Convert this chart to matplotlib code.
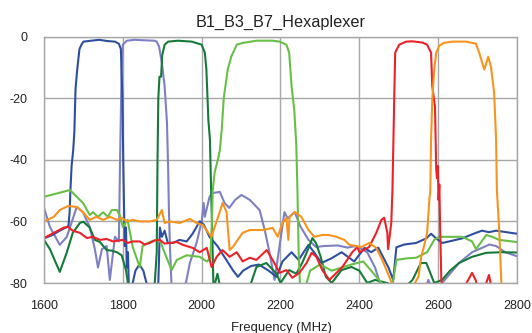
import matplotlib
matplotlib.use('Agg')
import matplotlib.pyplot as plt

plt.rcParams['font.family'] = ['Liberation Sans', 'DejaVu Sans']
plt.rcParams['axes.unicode_minus'] = False

# ---- data (frequency in MHz, insertion/isolation in dB) ----
title = 'B1_B3_B7_Hexaplexer'
x_label = 'Frequency (MHz)'
x_ticks = [1600, 1800, 2000, 2200, 2400, 2600, 2800]
y_ticks = [0, -20, -40, -60, -80]

blue_f = [1600, 1620, 1640, 1655, 1662, 1665, 1667, 1670, 1674, 1677, 1680, 1684, 1690, 1695,
          1700, 1720, 1740, 1760, 1780, 1790, 1795, 1799, 1801, 1803, 1805, 1808, 1810, 1813,
          1816, 1825, 1832, 1842, 1852, 1860, 1866, 1886, 1890, 1894, 1899, 1906, 1914, 1927,
          1944, 1962, 1977, 1995, 2005, 2020, 2040, 2060, 2080, 2092, 2105, 2125, 2145, 2170,
          2190, 2205, 2228, 2246, 2271, 2285, 2304, 2329, 2355, 2387, 2413, 2430, 2448, 2474,
          2486, 2494, 2514, 2544, 2570, 2582, 2595, 2610, 2628, 2661, 2690, 2711, 2729, 2747, 2800]
blue_db = [-65.5, -64.5, -63, -62, -61.5, -57, -50, -42, -37, -31, -17, -11, -4, -2.6,
           -1.6, -1.3, -1.0, -1.4, -1.6, -2.3, -4, -20, -40, -55, -68, -62, -75, -70,
           -85, -80, -76, -74, -76, -80, -85, -85, -80, -62, -65, -63, -67, -67,
           -66, -66.5, -64, -60, -61, -65, -68, -72, -76, -78, -76, -74.5, -74, -76,
           -78, -73, -70, -72.5, -67.6, -70, -73.5, -72, -70, -73, -68.6, -70, -68.5, -75,
           -79, -68.4, -67.5, -67, -65.5, -64, -65.5, -67, -66.5, -65.5, -64, -63, -63.5, -63, -64]

purple_f = [1600, 1615, 1640, 1658, 1683, 1699, 1716, 1729, 1737, 1747, 1759, 1767, 1780, 1790,
            1793, 1797, 1800, 1810, 1830, 1860, 1880, 1886, 1892, 1899, 1906, 1912, 1915, 1917,
            1920, 1924, 1940, 1960, 1970, 1987, 2000, 2005, 2008, 2020, 2028, 2046, 2058, 2070,
            2085, 2101, 2122, 2147, 2160, 2172, 2185, 2193, 2210, 2218, 2236, 2250, 2271, 2290,
            2310, 2345, 2370, 2392, 2420, 2440, 2452, 2470, 2560, 2575, 2585, 2600, 2610, 2630,
            2653, 2686, 2711, 2730, 2747, 2770, 2800]
purple_db = [-55.6, -61.8, -67.6, -65, -55.3, -57, -61.8, -69, -75, -69, -68, -79, -65, -66.5,
             -40, -10, -2.6, -1.3, -1.0, -1.2, -1.3, -1.6, -3.2, -8.5, -16, -28, -43, -57,
             -70, -82, -82, -80, -73.5, -67, -60, -54, -58.5, -52, -50.8, -50.4, -54, -55.6,
             -53, -51.4, -53, -56.3, -62.8, -70, -79, -72, -57, -59, -57, -61.5, -66, -68.3,
             -68, -67.8, -68.5, -68, -70, -75, -80, -85, -85, -79, -82, -81, -80, -77,
             -73.5, -70, -68.6, -67.5, -68, -70, -71.3]

dkgreen_f = [1600, 1615, 1640, 1658, 1673, 1691, 1700, 1716, 1729, 1742, 1759, 1772, 1785, 1797,
             1808, 1815, 1880, 1886, 1888, 1890, 1893, 1897, 1900, 1906, 1915, 1940, 1975, 2000,
             2008, 2012, 2017, 2021, 2024, 2027, 2030, 2040, 2048, 2120, 2139, 2164, 2190, 2200,
             2222, 2240, 2255, 2270, 2281, 2290, 2302, 2315, 2330, 2355, 2380, 2400, 2420, 2440,
             2470, 2510, 2535, 2556, 2570, 2590, 2610, 2630, 2653, 2686, 2722, 2760, 2800]
dkgreen_db = [-66, -69, -76.4, -70, -63.7, -60.5, -60.1, -62, -66, -66.7, -69.3, -69.5, -70, -71,
              -75.8, -82, -82, -70, -40, -20, -13, -13, -6, -2.6, -1.6, -1.3, -1.6, -2.6,
              -5.2, -10.7, -27, -33.5, -50, -65, -82, -77, -82, -82, -74.8, -73.5, -77, -80,
              -75.8, -77, -73.5, -69, -65.4, -67, -71.5, -78, -80, -75.8, -74.8, -76, -80, -79,
              -80, -82, -79, -73.5, -73.5, -80, -79, -76, -73.5, -71.5, -70.2, -70, -70.1]

ltgreen_f = [1600, 1666, 1683, 1699, 1716, 1724, 1737, 1750, 1762, 1772, 1785, 1792, 1800, 1812,
             1825, 1843, 1850, 1868, 1885, 1895, 1910, 1924, 1937, 1962, 1995, 2013, 2022, 2026,
             2028, 2033, 2041, 2046, 2051, 2056, 2066, 2075, 2089, 2105, 2140, 2180, 2198, 2215,
             2222, 2228, 2235, 2240, 2243, 2246, 2250, 2262, 2275, 2300, 2330, 2355, 2380, 2410,
             2430, 2450, 2470, 2485, 2494, 2520, 2544, 2572, 2590, 2603, 2628, 2661, 2686, 2696,
             2722, 2737, 2755, 2800]
ltgreen_db = [-52, -49.8, -52, -54, -57.9, -57, -58.5, -57, -58.5, -56.3, -56.3, -58, -61.8, -59.5,
              -68.3, -74.8, -68, -66.7, -66, -66.5, -71.5, -75.8, -72.5, -71, -71.5, -73, -72, -60,
              -50, -44, -40, -37, -30, -20, -10.7, -6.5, -2.6, -2, -1.3, -1.3, -1.6, -2.6,
              -5.2, -16, -24, -35, -50, -70, -82, -82, -76, -74, -76, -75, -74, -73,
              -76, -79, -82, -80, -72.5, -72, -71.8, -70, -66, -65, -65, -65, -66.5, -69,
              -64.4, -65, -66, -66.7]

red_f = [1600, 1625, 1650, 1661, 1673, 1691, 1709, 1724, 1742, 1759, 1775, 1800, 1812, 1825,
         1843, 1855, 1868, 1880, 1894, 1906, 1919, 1937, 1952, 1977, 1995, 2013, 2025, 2038,
         2053, 2071, 2089, 2104, 2122, 2139, 2165, 2180, 2198, 2215, 2230, 2248, 2266, 2279,
         2291, 2306, 2324, 2357, 2382, 2395, 2400, 2425, 2443, 2456, 2463, 2471, 2473, 2481,
         2484, 2489, 2491, 2501, 2519, 2534, 2560, 2572, 2582, 2585, 2590, 2592, 2595, 2597,
         2599, 2601, 2603, 2605, 2608, 2612, 2650, 2672, 2686, 2695, 2705, 2722, 2729, 2736,
         2750, 2800]
red_db = [-65.4, -63.7, -62, -61.8, -63, -63.7, -65.4, -65, -66, -65.7, -66.5, -66, -67, -66.5,
          -66.5, -67.5, -67, -66.2, -66, -67.2, -67, -66.7, -67.6, -68.6, -70, -68.6, -74.8, -71.5,
          -69.3, -71.5, -70, -73, -71.8, -72.5, -69.3, -72.5, -76.7, -75.8, -78.3, -76.7, -73.5, -70.2,
          -71.5, -75.8, -79, -74.8, -70, -68.3, -70, -68.3, -63.7, -59.5, -58.8, -63.7, -69, -60.5,
          -50, -17, -5.2, -2.6, -1.6, -1.5, -1.9, -2.6, -5.2, -16, -21, -22.8, -43, -46,
          -42, -53, -48, -62, -79, -85, -85, -80, -76.7, -79, -85, -80, -77.4, -82,
          -85, -85]

orange_f = [1600, 1625, 1640, 1661, 1683, 1699, 1716, 1733, 1750, 1767, 1785, 1797, 1810, 1825,
            1843, 1868, 1886, 1899, 1906, 1919, 1944, 1970, 1987, 2003, 2015, 2025, 2033, 2046,
            2053, 2063, 2071, 2079, 2104, 2122, 2155, 2180, 2193, 2205, 2215, 2220, 2223, 2236,
            2253, 2271, 2286, 2306, 2322, 2342, 2362, 2375, 2405, 2425, 2443, 2458, 2476, 2489,
            2532, 2550, 2557, 2565, 2572, 2577, 2580, 2582, 2585, 2590, 2595, 2603, 2615, 2636,
            2671, 2696, 2704, 2717, 2727, 2734, 2742, 2747, 2749, 2755, 2760, 2763]
orange_db = [-60, -58.5, -56.3, -55, -55.3, -57, -59.5, -58.5, -59.5, -58.5, -59.5, -58.8, -60, -59.5,
             -60, -60, -59.5, -56.3, -60.5, -60, -60.5, -59.2, -60.5, -61.2, -63.4, -65, -61.8, -56.9,
             -54, -56.9, -69.3, -68.3, -63.7, -62.8, -62.8, -62.1, -65, -60.5, -58.9, -66, -58.5, -56.9,
             -58.5, -62.8, -65, -64.4, -64.4, -65, -66, -67.6, -68.3, -67, -68.6, -72.5, -78, -82,
             -82, -78, -71.5, -67.6, -63.7, -54, -50, -33.5, -20.5, -10.7, -5.2, -2.9, -2, -1.6,
             -1.6, -2.3, -5.2, -10.7, -6.5, -9.8, -18.2, -33.5, -50, -63, -79, -85]

series = [
    (purple_f, purple_db, '#7F80C2'),
    (blue_f, blue_db, '#2E4FA0'),
    (dkgreen_f, dkgreen_db, '#157A3A'),
    (ltgreen_f, ltgreen_db, '#68BF48'),
    (red_f, red_db, '#EC2229'),
    (orange_f, orange_db, '#F7941E'),
]

#%%
fig = plt.figure(figsize=(5.32, 3.33), dpi=100)
ax = fig.add_axes([44 / 532, 1 - 283 / 333, (517 - 44) / 532, (283 - 36.7) / 333])

for f, db, c in series:
    ax.plot(f, db, color=c, lw=1.5, solid_joinstyle='round')

ax.set_xlim(1600, 2800)
ax.set_ylim(-80, 0)
ax.set_xticks(x_ticks)
ax.set_yticks(y_ticks)
ax.grid(True, color='#A8A8A8', lw=1.0)
ax.set_axisbelow(True)
for s in ax.spines.values():
    s.set_color('#A8A8A8')
    s.set_linewidth(1.0)
ax.tick_params(axis='both', length=0, labelsize=9, colors='#222222')
ax.tick_params(axis='x', pad=12.5)
ax.tick_params(axis='y', pad=12)

fig.text(281 / 532, 1 - 26.5 / 333, title, ha='center', va='baseline',
         fontsize=11.7, color='#222222')
# x label sits at the very bottom edge, as in the reference
fig.text(281 / 532, 1 - 331 / 333, x_label, ha='center', va='baseline',
         fontsize=9.4, color='#222222')

fig.savefig('out.png', dpi=100)
